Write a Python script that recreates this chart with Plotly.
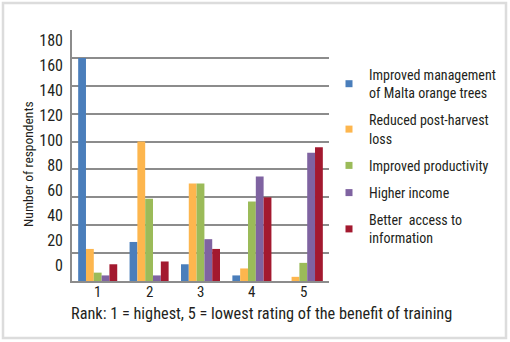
import plotly.graph_objects as go

ranks = ["1", "2", "3", "4", "5"]
series_names = [
    "Improved management<br>of Malta orange trees",
    "Reduced post-harvest<br>loss",
    "Improved productivity",
    "Higher income",
    "Better  access to<br>information",
]
colors = ["#4a7ebb", "#fdb64e", "#9bbb59", "#7f63a1", "#a3192f"]
improved_management = [160, 28, 12, 4, 0]
reduced_loss = [23, 100, 70, 9, 3]
improved_productivity = [6, 59, 70, 57, 13]
higher_income = [4, 4, 30, 75, 92]
better_access = [12, 14, 23, 60, 96]
values = [improved_management, reduced_loss, improved_productivity, higher_income, better_access]
y_ticks = [0, 20, 40, 60, 80, 100, 120, 140, 160, 180]

FONT = "Roboto Condensed, Liberation Sans Narrow, sans-serif"
TXT = "#231f20"
GRID = "#8c8c8c"

fig = go.Figure()
for name, vals, col in zip(series_names, values, colors):
    fig.add_trace(go.Bar(x=ranks, y=vals, marker=dict(color=col, line=dict(width=0)),
                         showlegend=False, name=name))
for i, (name, col) in enumerate(zip(series_names, colors)):
    fig.add_trace(go.Scatter(x=[None], y=[None], mode="markers", name=name,
                             legendgroup=f"g{i}",
                             marker=dict(symbol="square", size=7, color=col)))
# helper trace carrying the label axis
fig.add_trace(go.Scatter(x=[None], y=[None], yaxis="y2", showlegend=False, hoverinfo="skip"))

# category labels placed on the category axis by index
rank_labels = [dict(text=r, xref="x", yref="paper", x=i, y=(281 - 292) / 251,
                    xanchor="center", yanchor="middle", showarrow=False, font=dict(size=15))
               for i, r in enumerate(ranks)]

fig.update_layout(
    width=510, height=342,
    margin=dict(l=72, r=181, t=30, b=61, autoexpand=False),
    paper_bgcolor="white", plot_bgcolor="white",
    font=dict(family=FONT, size=14, color=TXT),
    barmode="group", bargap=0.24, bargroupgap=0,
    xaxis=dict(type="category", range=[-0.5, len(ranks) - 0.5], showgrid=False, showline=True,
               linecolor=GRID, linewidth=2, ticks="", showticklabels=False, zeroline=False,
               automargin=False),
    yaxis=dict(range=[0, 180], tickvals=y_ticks, showticklabels=False, showgrid=True,
               gridcolor=GRID, gridwidth=1.5, showline=True, linecolor=GRID, linewidth=2,
               zeroline=False, ticks="", automargin=False),
    yaxis2=dict(overlaying="y", side="left", range=[-12.8, 188], tickvals=y_ticks,
                showgrid=False, zeroline=False, showline=False, ticks="",
                tickfont=dict(size=16), ticklabelstandoff=8, automargin=False),
    legend=dict(x=1.0, xanchor="left", y=(281 - 59) / 251, yanchor="top",
                font=dict(size=14), tracegroupgap=6, bgcolor="rgba(0,0,0,0)"),
    annotations=rank_labels + [
        dict(text="Rank: 1 = highest, 5 = lowest rating of the benefit of training",
             xref="paper", yref="paper", x=(261 - 72) / 257, y=(281 - 314) / 251,
             xanchor="center", yanchor="middle", showarrow=False, font=dict(size=16.3)),
        dict(text="Number of respondents", textangle=-90,
             xref="paper", yref="paper", x=(28 - 72) / 257, y=(281 - 164) / 251,
             xanchor="center", yanchor="middle", showarrow=False, font=dict(size=13.5)),
    ],
    shapes=[
        dict(type="rect", xref="paper", yref="paper",
             x0=(3 - 72) / 257, x1=(506 - 72) / 257, y0=(281 - 338) / 251, y1=(281 - 3) / 251,
             line=dict(color="#dcdcdc", width=2.5), fillcolor="rgba(0,0,0,0)", layer="below"),
    ],
)

fig.write_html("out.html", config={"displayModeBar": False},
               post_script="document.body.style.margin='0';document.body.style.overflow='hidden';")
